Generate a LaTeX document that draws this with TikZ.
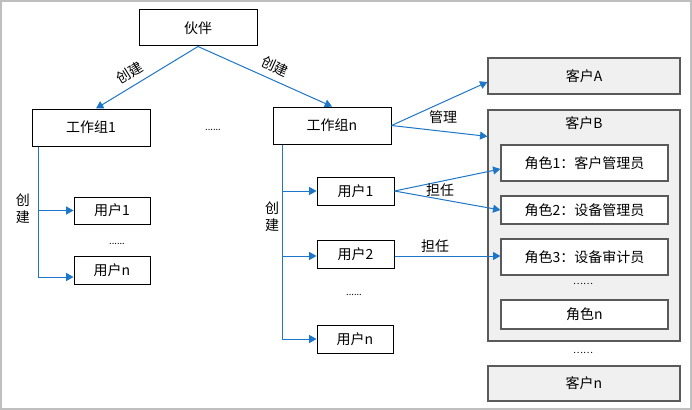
\documentclass[tikz,border=0pt]{standalone}
\usepackage{fontspec}
\setmainfont{Noto Sans CJK SC}
\usetikzlibrary{arrows.meta,calc,fit}
\definecolor{arrowblue}{RGB}{30,118,200}
\definecolor{clientfill}{RGB}{240,240,240}
\definecolor{clientline}{RGB}{90,90,90}
\begin{document}
\begin{tikzpicture}[x=0.75pt,y=-0.75pt,
  txt/.style={font=\fontsize{10.5}{12}\selectfont,inner sep=0pt,text height=0.88em,text depth=0.12em},
  box/.style={draw=black,line width=0.75pt,fill=white,inner sep=0pt,label={[txt]center:#1}},
  client/.style={draw=clientline,line width=0.9pt,fill=clientfill,inner sep=0pt,label={[txt]center:#1}},
  role/.style={draw=clientline,line width=0.9pt,fill=white,inner sep=0pt,label={[txt]center:#1}},
  conn/.style={draw=arrowblue,line width=0.75pt,-{Triangle[length=5.5pt,width=6pt]}},
  lbl/.style={txt},
  vlbl/.style={font=\fontsize{10.5}{13}\selectfont,inner sep=0pt,align=center},
  dotsn/.style={font=\fontsize{7}{8}\selectfont,inner sep=0pt}]
\useasboundingbox (0,0) rectangle (692,410);
\draw[draw=black!25,line width=1.5pt,fill=white] (1,1) rectangle (691,409);

% top level
\node[box=伙伴,fit={(139,10) (257,46)}] (p) {};
\node[box=工作组1,fit={(32,109) (150,146)}] (g1) {};
\node[box=工作组n,fit={(273,107) (391,144)}] (gn) {};
\node[dotsn] (d0) at (213,130) {......};

\draw[conn] (p.south) -- ($(g1.north)+(5,0)$);
\draw[conn] (p.south) -- (gn.north);
\node[lbl,rotate=31.7] (c1) at (130,73) {创建};
\node[lbl,rotate=-24.3] (c2) at (275,67) {创建};

% left users
\node[box=用户1,fit={(74,197) (150,224)}] (lu1) {};
\node[box=用户n,fit={(74,256) (150,284)}] (lun) {};
\node[dotsn] (d1) at (117,244) {......};
\coordinate (lv) at ($(g1.south west)+(7,0)$);
\draw[conn] (lv) |- (lu1.west);
\draw[conn] (lv) |- ($(lun.west)+(0,7)$);
\node[vlbl] (lc) at (23,209) {创\\建};

% right users
\node[box=用户1,fit={(317,177) (394,205)}] (ru1) {};
\node[box=用户2,fit={(317,240) (394,268)}] (ru2) {};
\node[box=用户n,fit={(317,325) (393,353)}] (run) {};
\node[dotsn] (d2) at (354,295) {......};
\coordinate (rv) at ($(gn.south west)+(10,0)$);
\draw[conn] (rv) |- (ru1.west);
\draw[conn] (rv) |- ($(ru2.west)+(0,2)$);
\draw[conn] (rv) |- (run.west);
\node[vlbl] (rc) at (272,217) {创\\建};

% clients
\node[client=客户A,fit={(488,58) (680,94)}] (ca) {};
\node[client={},fit={(488,110) (680,341)}] (cb) {};
\node[lbl] (cbt) at (584,123) {客户B};
\node[role=角色1：客户管理员,fit={(501,145) (668,181)}] (r1) {};
\node[role=角色2：设备管理员,fit={(501,196) (668,224)}] (r2) {};
\node[role=角色3：设备审计员,fit={(501,239) (668,275)}] (r3) {};
\node[dotsn] (d3) at (583,284) {……};
\node[role=角色n,fit={(501,300) (668,329)}] (rn) {};
\node[dotsn] (d4) at (583,353) {……};
\node[client=客户n,fit={(488,366) (680,401)}] (cn) {};

\draw[conn] (gn.east) -- ($(ca.west)+(0,6)$);
\draw[conn] (gn.east) -- ($(cb.north west)+(0,27)$);
\node[lbl] (m) at (443,117) {管理};

\draw[conn] (ru1.east) -- ($(r1.west)+(0,6)$);
\draw[conn] (ru1.east) -- (r2.west);
\node[lbl] (t1) at (440,190) {担任};
\draw[conn] ($(ru2.east)+(0,2)$) -- ($(r3.west)+(0,-1)$);
\node[lbl] (t2) at (435,246) {担任};
\end{tikzpicture}
\end{document}
